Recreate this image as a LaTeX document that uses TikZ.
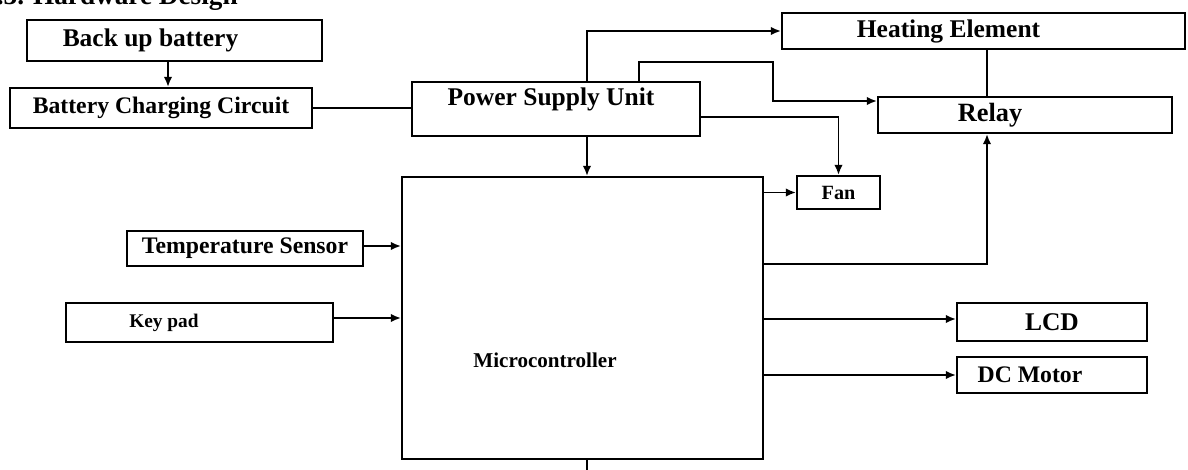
\documentclass[tikz,border=0pt]{standalone}
\usepackage{fontspec}
\setmainfont{Liberation Serif}
\usetikzlibrary{positioning, arrows.meta, calc}

\newcommand{\bfsz}[1]{\fontsize{#1}{#1}\selectfont\bfseries}

\begin{document}
\begin{tikzpicture}[x=0.02cm, y=-0.02cm,
    blk/.style={draw, line width=1.3pt, inner sep=0pt},
    wire/.style={line width=1pt},
    arr/.style={wire, -{Latex[length=0.2cm, width=0.17cm]}}]
        \useasboundingbox (0,0) rectangle (1188,470);
        % title, cut off at the top edge
        \node[font=\bfsz{15.5}, anchor=base east, inner sep=0pt] (title) at (238,5) {3.3. Hardware Design};

        % blocks
        \node[blk, minimum width=5.9cm, minimum height=0.82cm,
              label={[font=\bfsz{14.5}, xshift=-0.48cm]center:Back up battery}] (bat) at (174.5,40.5) {};
        \node[blk, minimum width=6.04cm, minimum height=0.8cm, font=\bfsz{13.5}] (chg) at (161,108) {Battery Charging Circuit};
        \node[blk, minimum width=5.76cm, minimum height=1.08cm,
              label={[font=\bfsz{14.5}, xshift=-0.1cm, yshift=0.2cm]center:Power Supply Unit}] (psu) at (556,109) {};
        \node[blk, minimum width=8.06cm, minimum height=0.72cm,
              label={[font=\bfsz{14.5}, xshift=-0.7cm]center:Heating Element}] (heat) at (983.5,31) {};
        \node[blk, minimum width=5.88cm, minimum height=0.72cm,
              label={[font=\bfsz{15}, xshift=-0.7cm]center:Relay}] (relay) at (1025,115) {};
        \node[blk, minimum width=1.66cm, minimum height=0.66cm, font=\bfsz{11.5}] (fan) at (838.5,192.5) {Fan};
        \node[blk, minimum width=7.22cm, minimum height=5.64cm,
              label={[font=\bfsz{12}, xshift=-0.75cm, yshift=-0.84cm]center:Microcontroller}] (mcu) at (582.5,318) {};
        \node[blk, minimum width=4.72cm, minimum height=0.7cm, font=\bfsz{13.5}] (temp) at (245,248.5) {Temperature Sensor};
        \node[blk, minimum width=5.34cm, minimum height=0.78cm,
              label={[font=\bfsz{11}, xshift=-0.71cm]center:Key pad}] (key) at (199.5,322.5) {};
        \node[blk, minimum width=3.8cm, minimum height=0.76cm, font=\bfsz{14.5}] (lcd) at (1052,322) {LCD};
        \node[blk, minimum width=3.8cm, minimum height=0.72cm,
              label={[font=\bfsz{13.5}, xshift=-0.44cm]center:DC Motor}] (dcm) at (1052,375) {};
        \coordinate (stub) at ([xshift=0.09cm, yshift=-0.45cm]mcu.south);

        % power side
        \draw[arr] ([xshift=-0.13cm]bat.south) -- ([xshift=-0.13cm]bat.south |- chg.north);
        \draw[wire] (chg.east) -- (chg.east -| psu.west);
        \draw[arr] ([xshift=0.62cm]psu.north) |- (heat.west);
        \draw[arr] ([xshift=1.66cm]psu.north) |- (773,62) |- ([yshift=0.28cm]relay.west);
        \draw[arr] ([yshift=-0.16cm]psu.east) -| (fan.north);
        \draw[arr] ([xshift=0.62cm]psu.south) -- ([xshift=0.62cm]psu.south |- mcu.north);
        \draw[wire] ([xshift=-0.76cm]relay.north) -- ([xshift=-0.76cm]relay.north |- heat.south);

        % inputs
        \draw[arr] ([yshift=0.05cm]temp.east) -- ([yshift=0.05cm]temp.east -| mcu.west);
        \draw[arr] ([yshift=0.09cm]key.east) -- ([yshift=0.09cm]key.east -| mcu.west);

        % outputs
        \draw[arr] (mcu.east |- fan.west) -- (fan.west);
        \draw[arr] ([yshift=-1.76cm]mcu.north east) -| ([xshift=-0.76cm]relay.south);
        \draw[arr] ([yshift=0.06cm]mcu.east |- lcd.west) -- ([yshift=0.06cm]lcd.west);
        \draw[arr] (mcu.east |- dcm.west) -- (dcm.west);
        \draw[arr] ([xshift=0.09cm]mcu.south) -- (stub);
      \end{tikzpicture}
\end{document}
